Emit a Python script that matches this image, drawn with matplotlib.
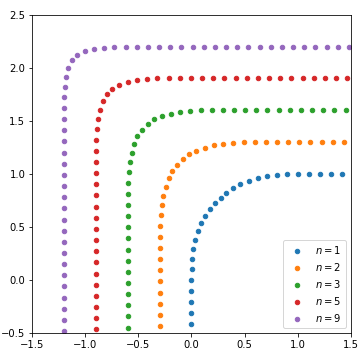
import matplotlib
matplotlib.use('Agg')
import matplotlib.pyplot as plt

# points, one pair of lists per curve
x_n1 = [1.421, 1.316, 1.211, 1.105, 1.0, 0.896, 0.802, 0.708, 0.623, 0.538, 0.462, 0.396, 0.330, 0.274,
        0.226, 0.179, 0.132, 0.094, 0.066, 0.038, 0.019, 0.009, 0.002, 0.0, 0.0, 0.0, 0.0, 0.0]
y_n1 = [1.0, 1.0, 1.0, 1.0, 1.0, 0.998, 0.991, 0.981, 0.962, 0.934, 0.906, 0.868, 0.821, 0.774,
        0.726, 0.670, 0.604, 0.538, 0.462, 0.377, 0.292, 0.198, 0.104, 0.0, -0.105, -0.211, -0.316, -0.421]

x_n2 = [1.437, 1.332, 1.226, 1.121, 1.016, 0.911, 0.805, 0.700, 0.595, 0.492, 0.389, 0.294, 0.209,
        0.125, 0.043, -0.026, -0.083,
        -0.140, -0.187, -0.215, -0.243, -0.272, -0.281, -0.291, -0.298,
        -0.3, -0.3, -0.3, -0.3, -0.3, -0.3, -0.3, -0.3, -0.3]
y_n2 = [1.3, 1.3, 1.3, 1.3, 1.3, 1.3, 1.3, 1.3, 1.3, 1.298, 1.291, 1.281, 1.272,
        1.243, 1.215, 1.187, 1.140,
        1.083, 1.026, 0.957, 0.875, 0.791, 0.706, 0.611, 0.508,
        0.405, 0.3, 0.195, 0.089, -0.016, -0.121, -0.226, -0.332, -0.437]

x_n3 = [1.453, 1.347, 1.242, 1.137, 1.032, 0.926, 0.821, 0.716, 0.611, 0.505, 0.4, 0.295, 0.189,
        0.089, -0.015, -0.109, -0.194, -0.279, -0.355, -0.411,
        -0.468, -0.515, -0.543, -0.562, -0.581, -0.591, -0.6,
        -0.6, -0.6, -0.6, -0.6, -0.6, -0.6, -0.6, -0.6, -0.6, -0.6, -0.6, -0.6, -0.6]
y_n3 = [1.6, 1.6, 1.6, 1.6, 1.6, 1.6, 1.6, 1.6, 1.6, 1.6, 1.6, 1.6, 1.6,
        1.6, 1.591, 1.581, 1.562, 1.543, 1.515, 1.468,
        1.411, 1.355, 1.279, 1.194, 1.109, 1.015, 0.911,
        0.811, 0.705, 0.6, 0.495, 0.389, 0.284, 0.179, 0.074, -0.032, -0.137, -0.242, -0.347, -0.453]

x_n5 = [1.468, 1.363, 1.258, 1.153, 1.047, 0.942, 0.837, 0.732, 0.626, 0.521, 0.416, 0.311, 0.205,
        0.1, -0.005, -0.111, -0.216, -0.321,
        -0.419, -0.513, -0.598, -0.683, -0.749,
        -0.796, -0.834, -0.862, -0.881, -0.891,
        -0.9, -0.9, -0.9, -0.9, -0.9, -0.9, -0.9, -0.9, -0.9, -0.9, -0.9, -0.9, -0.9, -0.9,
        -0.9, -0.9, -0.9, -0.9]
y_n5 = [1.9, 1.9, 1.9, 1.9, 1.9, 1.9, 1.9, 1.9, 1.9, 1.9, 1.9, 1.9, 1.9,
        1.9, 1.9, 1.9, 1.9, 1.9,
        1.891, 1.881, 1.862, 1.834, 1.796,
        1.749, 1.683, 1.598, 1.513, 1.419,
        1.321, 1.216, 1.111, 1.005, 0.9, 0.795, 0.689, 0.584, 0.479, 0.374, 0.268, 0.163, 0.058, -0.047,
        -0.153, -0.258, -0.363, -0.468]

x_n9 = [1.484, 1.379, 1.274, 1.168, 1.063, 0.958, 0.853, 0.747, 0.642, 0.537, 0.432, 0.326, 0.221,
        0.116, 0.011, -0.095, -0.2, -0.305, -0.411, -0.516, -0.621, -0.726,
        -0.823, -0.917, -1.002, -1.077,
        -1.125, -1.162, -1.181, -1.191,
        -1.2, -1.2, -1.2, -1.2, -1.2, -1.2, -1.2, -1.2, -1.2, -1.2, -1.2, -1.2, -1.2, -1.2,
        -1.2, -1.2, -1.2, -1.2, -1.2, -1.2, -1.2, -1.2]
y_n9 = [2.2, 2.2, 2.2, 2.2, 2.2, 2.2, 2.2, 2.2, 2.2, 2.2, 2.2, 2.2, 2.2,
        2.2, 2.2, 2.2, 2.2, 2.2, 2.2, 2.2, 2.2, 2.2,
        2.191, 2.181, 2.162, 2.125,
        2.077, 2.002, 1.917, 1.823,
        1.726, 1.621, 1.516, 1.411, 1.305, 1.2, 1.095, 0.989, 0.884, 0.779, 0.674, 0.568, 0.463, 0.358,
        0.253, 0.147, 0.042, -0.063, -0.168, -0.274, -0.379, -0.484]

n_values = [1, 2, 3, 5, 9]
xs = [x_n1, x_n2, x_n3, x_n5, x_n9]
ys = [y_n1, y_n2, y_n3, y_n5, y_n9]

fig, ax = plt.subplots(figsize=(5, 5), dpi=72)
fig.subplots_adjust(left=0.0897, right=0.974, bottom=0.0758, top=0.959)

for n, x, y in zip(n_values, xs, ys):
    ax.scatter(x, y, s=20, label='$n = %d$' % n)

ax.set_xlim(-1.5, 1.5)
ax.set_ylim(-0.5, 2.5)
ax.legend(loc='lower right')

fig.savefig('out.png', dpi=72)
